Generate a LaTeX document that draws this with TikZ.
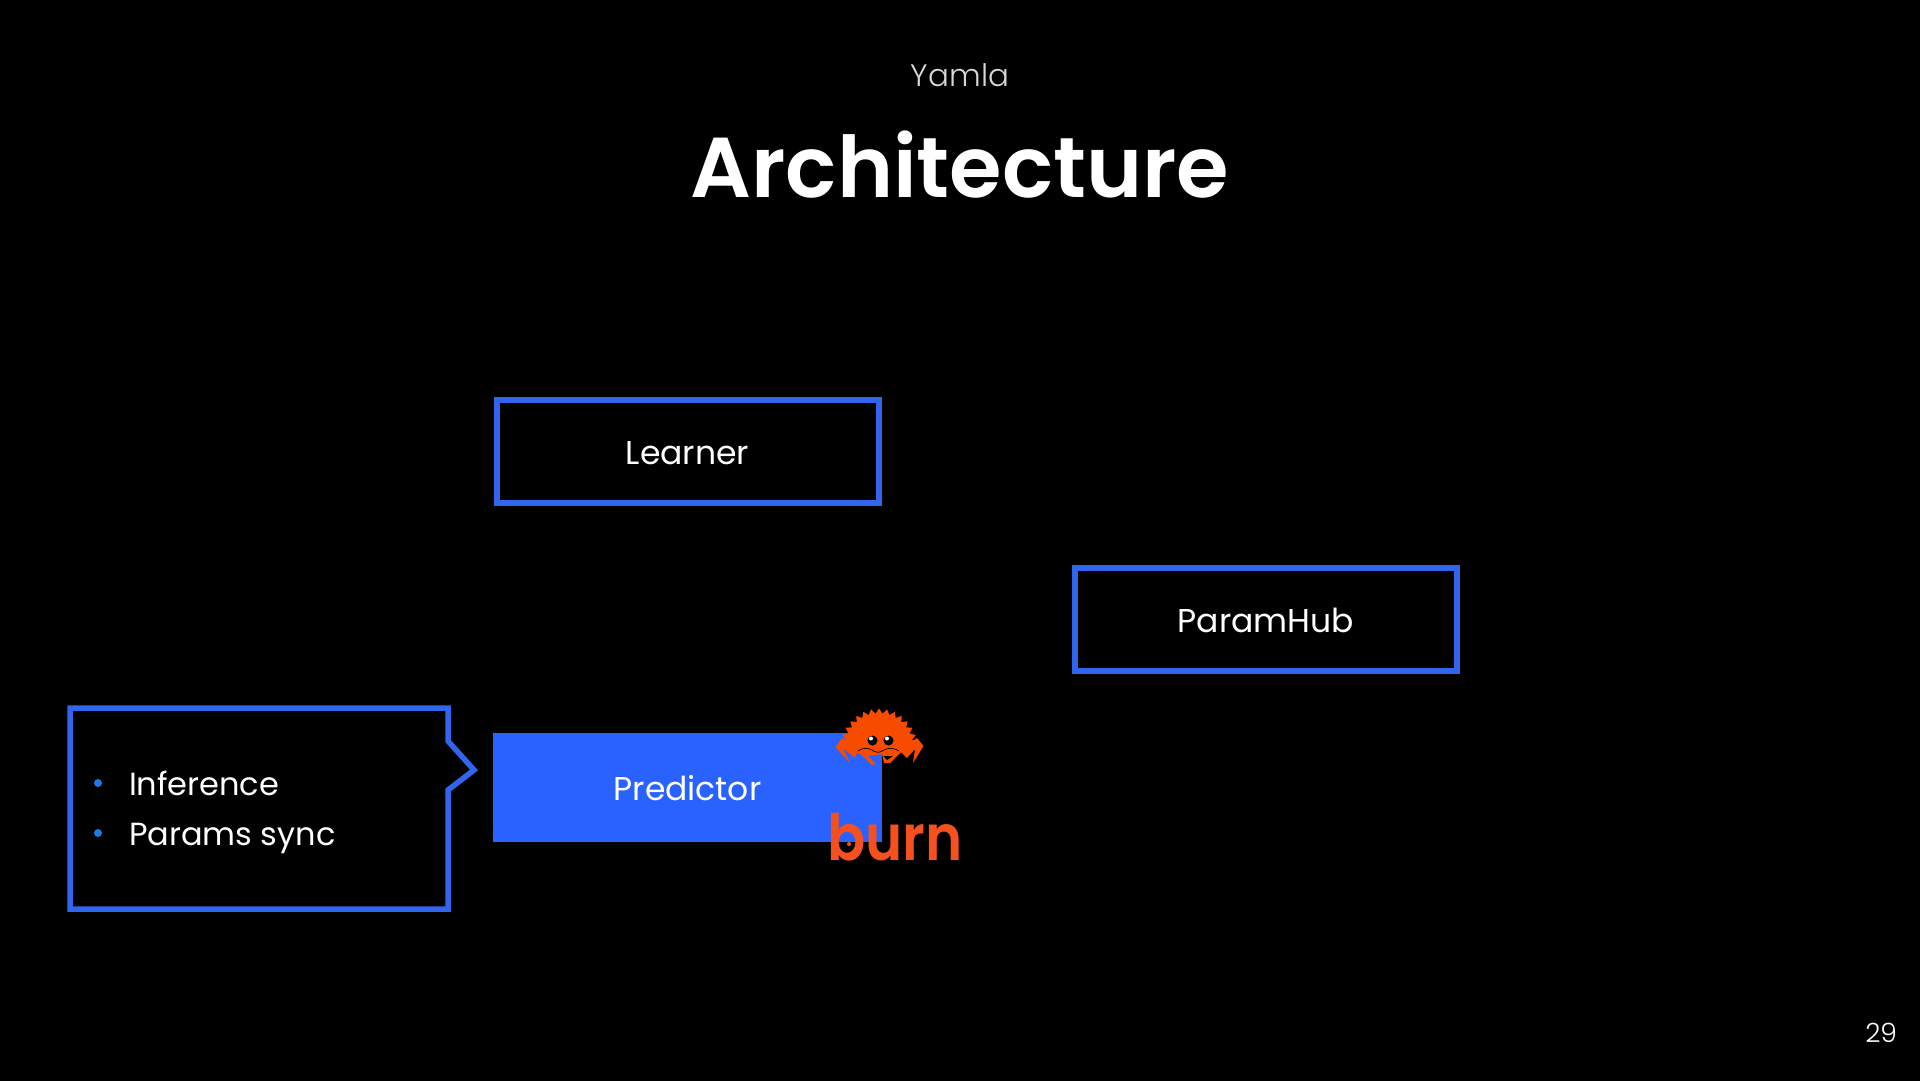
\documentclass[tikz,border=0pt]{standalone}
\usepackage{fontspec}
\setmainfont{Poppins}
\newfontfamily\poplight{Poppins Light}
\newfontfamily\popsemi{Poppins SemiBold}
\definecolor{boxblue}{HTML}{3065EE}
\definecolor{fillblue}{HTML}{2962FF}
\definecolor{dotblue}{HTML}{1F78E8}
\definecolor{rustorange}{HTML}{F74C00}
\definecolor{burnorange}{HTML}{F5501E}
\definecolor{subgray}{HTML}{D8D8D8}
\tikzset{
  every node/.style={inner sep=0pt,outer sep=0pt,text=white},
  frame/.style={draw=boxblue,line width=5.5pt,fill=black,minimum width=382pt,minimum height=103pt,anchor=north west},
  solidbox/.style={fill=fillblue,minimum width=389pt,minimum height=109pt,anchor=north west},
  boxtext/.style={font=\fontsize{33}{40}\selectfont,anchor=base},
  itemtext/.style={font=\fontsize{32}{40}\selectfont,anchor=base west},
  bullet/.style={circle,fill=dotblue,minimum size=8pt}
}
\begin{document}
\begin{tikzpicture}[x=1pt,y=-1pt]
\useasboundingbox (0,0) rectangle (1920,1080);
\fill[black] (-5,-5) rectangle (1925,1085);
% titles
\node[anchor=base,text=subgray,font=\poplight\fontsize{31}{36}\selectfont] (sub) at (960,86) {Yamla};
\node[anchor=base,font=\popsemi\fontsize{85}{100}\selectfont] (title) at (960,197) {Architecture};
% boxes
\node[frame] (learner) at (497,400) {};
\node[boxtext] (learnertext) at (687.5,464) {Learner};
\node[frame] (hub) at (1075,568) {};
\node[boxtext] (hubtext) at (1266,632) {ParamHub};
\node[solidbox] (pred) at (493,733) {};
\node[boxtext] (predtext) at (687.5,800) {Predictor};
% callout
\draw[boxblue,line width=5.5pt,miter limit=10] (70,708) -- (448,708) -- (448,741) -- (474,770) -- (448,790) -- (448,909) -- (70,909) -- cycle;
\node[bullet] (b1) at (98,783) {};
\node[bullet] (b2) at (98,833) {};
\node[itemtext] (i1) at (129,795) {Inference};
\node[itemtext] (i2) at (129,845) {Params sync};
% crab legs
\fill[rustorange] (842,738) -- (835.5,747) -- (850,763) -- (843,748) -- (855,758) -- (858,750) -- cycle;
\fill[rustorange] (917,738) -- (923.5,746) -- (913,763) -- (915,749) -- (907,758) -- (900,751) -- cycle;
% crab body
\fill[rustorange] (842,740)
 \foreach \a in {6,18,...,174} { -- ({879+38.5*cos(\a)},{747-38.5*sin(\a)}) -- ({879+33.5*cos(\a+6)},{747-33.5*sin(\a+6)}) }
 -- (842,740) -- (858,753) -- (900,753) -- (917,740) -- cycle;
% crab claws
\fill[rustorange] (857,751) -- (872,765) -- (876,764) -- (868,756) -- (882,754) -- (882,750) -- cycle;
\fill[rustorange] (882,750) -- (882,754) -- (884,763) -- (890,763) -- (901,752) -- cycle;
\fill[black] (883.5,756) -- (893,756) -- (887,760) -- cycle;
% mouth
\draw[black,line width=.7pt] (858,751) .. controls (864,747) and (868,748) .. (872,750) .. controls (876,753) and (880,753) .. (884,750) .. controls (888,748) and (892,747) .. (899,751);
% eyes
\fill[black] (872.5,740.5) circle (5);
\fill[black] (888.5,740.5) circle (5);
\fill[white] (871,738.5) circle (2);
\fill[white] (887,738.5) circle (2);
% burn
\node[anchor=base,text=burnorange,xscale=.88,font=\popsemi\fontsize{64}{70}\selectfont] (burn) at (895,860) {burn};
\fill[burnorange] (849,844) circle (2);
% page number
\node[anchor=base east,font=\poplight\fontsize{26.5}{32}\selectfont] (page) at (1897,1042) {29};
\end{tikzpicture}
\end{document}
